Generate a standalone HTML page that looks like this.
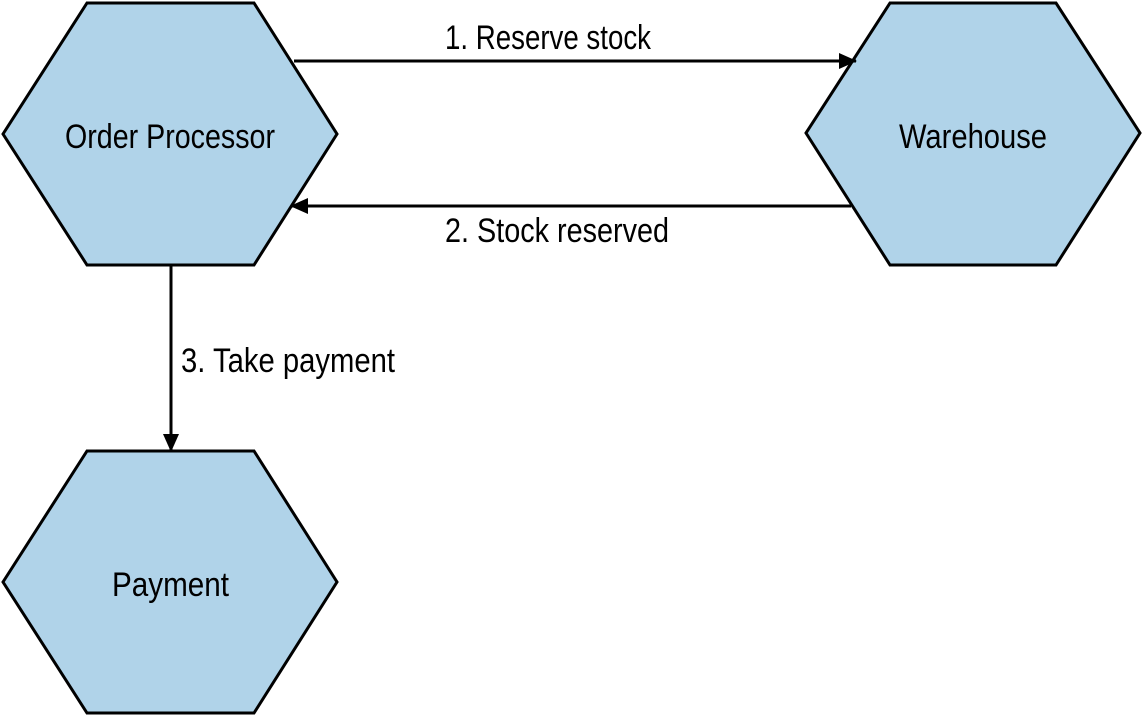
<!DOCTYPE html>
<html><head><meta charset="utf-8"><style>html,body{margin:0;padding:0;background:#fff;}svg{display:block;}</style></head>
<body>
<svg width="1144" height="716" viewBox="0 0 1144 716" xmlns="http://www.w3.org/2000/svg">
<defs>
<marker id="ah2" markerWidth="18" markerHeight="16" refX="17" refY="8" orient="auto" markerUnits="userSpaceOnUse">
<path d="M0,0 L18,8 L0,16 Z" fill="#000"/>
</marker>
</defs>
<g fill="#b0d3e9" stroke="#000" stroke-width="3" stroke-linejoin="miter">
<polygon points="3,134 87,3 254,3 337,134 254,265 87,265"/>
<polygon points="806,133 890,3 1056,3 1140,133 1056,265 890,265"/>
<polygon points="3,582 87,451 254,451 337,582 254,713 87,713"/>
</g>
<g stroke="#000" stroke-width="3" fill="none">
<line x1="294" y1="61" x2="856" y2="61" marker-end="url(#ah2)"/>
<line x1="851" y1="206" x2="291" y2="206" marker-end="url(#ah2)"/>
<line x1="171" y1="266" x2="171" y2="451" marker-end="url(#ah2)"/>
</g>
<g font-family="Liberation Sans, sans-serif" font-size="34" fill="#000">
<text x="65" y="148" textLength="210" lengthAdjust="spacingAndGlyphs">Order Processor</text>
<text x="899" y="148" textLength="148" lengthAdjust="spacingAndGlyphs">Warehouse</text>
<text x="112" y="596" textLength="117" lengthAdjust="spacingAndGlyphs">Payment</text>
<text x="445" y="49" textLength="206" lengthAdjust="spacingAndGlyphs">1. Reserve stock</text>
<text x="445" y="242" textLength="224" lengthAdjust="spacingAndGlyphs">2. Stock reserved</text>
<text x="181" y="372" textLength="214" lengthAdjust="spacingAndGlyphs">3. Take payment</text>
</g>
</svg>
</body></html>
